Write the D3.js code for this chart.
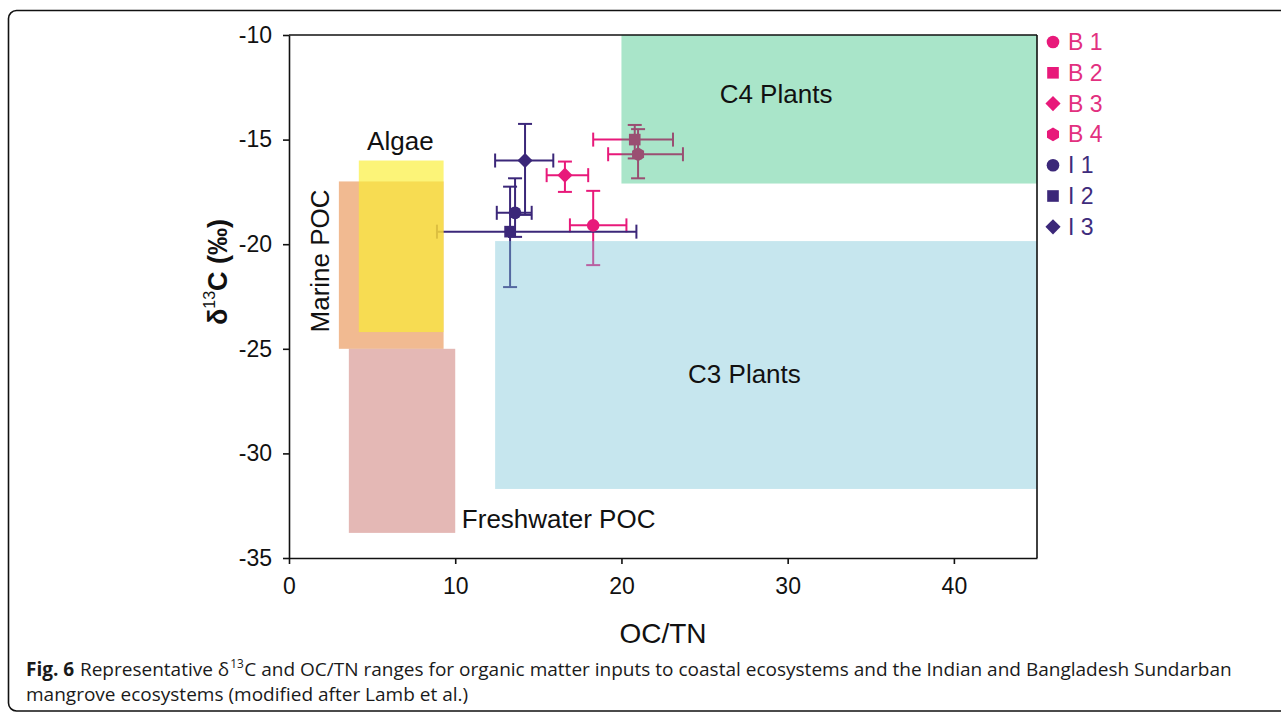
<!DOCTYPE html>
<html>
<head>
<meta charset="utf-8">
<script src="https://cdn.jsdelivr.net/npm/d3@7"></script>
<style>
  body { margin: 0; background: #fff; }
  svg { display: block; }
</style>
</head>
<body>
<svg id="chart" width="1281" height="714"></svg>
<script>
// ---- Sample stations: Bangladesh (B) and Indian (I) Sundarbans ----
const series       = ["B1", "B2", "B3", "B4", "I1", "I2", "I3"];
const legendLabels = ["B 1", "B 2", "B 3", "B 4", "I 1", "I 2", "I 3"];
const groups       = ["B", "B", "B", "B", "I", "I", "I"];
const shapes       = ["circle", "square", "diamond", "hexagon", "circle", "square", "diamond"];
const ocTn         = [18.3, 20.8, 16.6, 21.0, 13.6, 13.3, 14.2];
const ocTnLow      = [16.9, 18.3, 15.5, 19.2, 12.5, 8.9, 12.4];
const ocTnHigh     = [20.3, 23.1, 18.0, 23.7, 14.6, 20.9, 15.9];
const d13C         = [-19.1, -15.0, -16.7, -15.7, -18.5, -19.4, -16.0];
const d13CLow      = [-21.0, -15.9, -17.5, -16.85, -19.65, -22.05, -18.6];
const d13CHigh     = [-17.45, -14.3, -16.05, -14.5, -16.85, -17.25, -14.25];

// ---- Source end-member ranges (after Lamb et al.) ----
const regionNames = ["Marine POC", "Freshwater POC", "Algae", "C3 Plants", "C4 Plants"];
const regionX0    = [3.0, 3.6, 4.2, 12.4, 20.0];
const regionX1    = [9.3, 10.0, 9.3, 45, 45];
const regionY0    = [-25.0, -33.8, -24.2, -31.7, -17.1];
const regionY1    = [-17.0, -25.0, -16.0, -19.85, -10];
// label anchor points in data units
const regionLabelX = [1.85, 10.4, 6.7, 27.4, 29.3];
const regionLabelY = [-20.8, -33.15, -15.05, -26.2, -12.8];

// ---- Axes ----
const xTicks = [0, 10, 20, 30, 40];
const xTickLabels = ["0", "10", "20", "30", "40"];
const yTicks = [-35, -30, -25, -20, -15, -10];
const yTickLabels = ["-35", "-30", "-25", "-20", "-15", "-10"];

// ---- Caption pieces ----
const captionBold = "Fig. 6";
const captionLine1a = "Representative δ";
const captionSup = "13";
const captionLine1b = "C and OC/TN ranges for organic matter inputs to coastal ecosystems and the Indian and Bangladesh Sundarban";
const captionLine2 = "mangrove ecosystems (modified after Lamb et al.)";

// ---- Styling ----
const groupColor = { B: "#e8197a", I: "#3b2779" };
const legendTextColor = { B: "#e2307f", I: "#3e2c7c" };
const regionFill = {
  "Marine POC":     { c: "rgb(232,140,72)",  o: 0.6 },
  "Freshwater POC": { c: "rgb(206,126,120)", o: 0.55 },
  "Algae":          { c: "rgb(250,238,50)",  o: 0.66 },
  "C3 Plants":      { c: "rgb(120,195,215)", o: 0.42 },
  "C4 Plants":      { c: "rgb(10,180,100)",  o: 0.35 }
};
const FONT = "'Liberation Sans', Arial, sans-serif";

const svg = d3.select("#chart");
const x = d3.scaleLinear().domain([0, 45]).range([289, 1037]);
const y = d3.scaleLinear().domain([-35, -10]).range([558, 35]);

// outer rounded frame of the figure panel
svg.append("path")
  .attr("d", "M1300,10.5 H16.5 A8,8 0 0 0 8.5,18.5 V703 A8,8 0 0 0 16.5,711 H1300")
  .attr("fill", "none").attr("stroke", "#111").attr("stroke-width", 1.6);

// marker shapes
const symbolDiamond45 = {
  draw(ctx, size) {
    const r = Math.sqrt(size / 2);
    ctx.moveTo(0, -r); ctx.lineTo(r, 0); ctx.lineTo(0, r); ctx.lineTo(-r, 0); ctx.closePath();
  }
};
const symbolHexagon = {
  draw(ctx, size) {
    const r = Math.sqrt(2 * size / (3 * Math.sqrt(3)));
    for (let i = 0; i < 6; i++) {
      const a = Math.PI / 3 * i - Math.PI / 2;
      const px = r * Math.cos(a), py = r * Math.sin(a);
      if (i === 0) ctx.moveTo(px, py); else ctx.lineTo(px, py);
    }
    ctx.closePath();
  }
};
const symbolTypes = {
  circle:  { t: d3.symbolCircle, s: 125 },
  square:  { t: d3.symbolSquare, s: 135 },
  diamond: { t: symbolDiamond45, s: 115 },
  hexagon: { t: symbolHexagon,   s: 125 }
};
const symbolPath = k => d3.symbol().type(symbolTypes[k].t).size(symbolTypes[k].s)();

const pts = series.map((s, i) => ({
  s, g: groups[i], shape: shapes[i],
  x: ocTn[i], x0: ocTnLow[i], x1: ocTnHigh[i],
  y: d13C[i], y0: d13CLow[i], y1: d13CHigh[i]
}));

// ---- error bars and markers ----
const CAP = 7;
const pg = svg.append("g");
pts.forEach(p => {
  const g = pg.append("g").attr("stroke", groupColor[p.g]).attr("stroke-width", 2).attr("fill", "none");
  const cx = x(p.x), cy = y(p.y);
  // horizontal bar
  g.append("line").attr("x1", x(p.x0)).attr("x2", x(p.x1)).attr("y1", cy).attr("y2", cy);
  g.append("line").attr("x1", x(p.x0)).attr("x2", x(p.x0)).attr("y1", cy - CAP).attr("y2", cy + CAP);
  g.append("line").attr("x1", x(p.x1)).attr("x2", x(p.x1)).attr("y1", cy - CAP).attr("y2", cy + CAP);
  // vertical bar
  g.append("line").attr("x1", cx).attr("x2", cx).attr("y1", y(p.y0)).attr("y2", y(p.y1));
  g.append("line").attr("x1", cx - CAP).attr("x2", cx + CAP).attr("y1", y(p.y0)).attr("y2", y(p.y0));
  g.append("line").attr("x1", cx - CAP).attr("x2", cx + CAP).attr("y1", y(p.y1)).attr("y2", y(p.y1));
});
pg.selectAll("path.mk").data(pts).join("path")
  .attr("class", "mk")
  .attr("d", d => symbolPath(d.shape))
  .attr("transform", d => `translate(${x(d.x)},${y(d.y)})`)
  .attr("fill", d => groupColor[d.g]);

// ---- translucent source ranges laid over the samples ----
const regions = regionNames.map((n, i) => ({
  n, x0: regionX0[i], x1: regionX1[i], y0: regionY0[i], y1: regionY1[i],
  lx: regionLabelX[i], ly: regionLabelY[i]
}));
svg.append("g").selectAll("rect").data(regions).join("rect")
  .attr("x", d => x(d.x0))
  .attr("y", d => y(d.y1))
  .attr("width", d => x(d.x1) - x(d.x0))
  .attr("height", d => y(d.y0) - y(d.y1))
  .attr("fill", d => regionFill[d.n].c)
  .attr("fill-opacity", d => regionFill[d.n].o);

// region labels
const lab = svg.append("g").attr("font-family", FONT).attr("font-size", 26).attr("fill", "#111");
regions.forEach(r => {
  const t = lab.append("text").text(r.n).attr("dominant-baseline", "central");
  if (r.n === "Marine POC") {
    t.attr("text-anchor", "middle")
     .attr("transform", `translate(${x(r.lx)},${y(r.ly)}) rotate(-90)`);
  } else if (r.n === "Freshwater POC") {
    t.attr("text-anchor", "start").attr("x", x(r.lx)).attr("y", y(r.ly));
  } else {
    t.attr("text-anchor", "middle").attr("x", x(r.lx)).attr("y", y(r.ly));
  }
});

// ---- axes ----
const xAxis = d3.axisBottom(x).tickValues(xTicks)
  .tickFormat((d, i) => xTickLabels[i]).tickSize(6).tickSizeOuter(0).tickPadding(14);
const yAxis = d3.axisLeft(y).tickValues(yTicks)
  .tickFormat((d, i) => yTickLabels[i]).tickSize(6).tickSizeOuter(0).tickPadding(11);

const gx = svg.append("g").attr("transform", `translate(0,${y(-35)})`).call(xAxis);
const gy = svg.append("g").attr("transform", `translate(${x(0)},0)`).call(yAxis);
[gx, gy].forEach(g => {
  g.selectAll("path, line").attr("stroke", "#111").attr("stroke-width", 1.6);
  g.selectAll("text").attr("font-family", FONT).attr("font-size", 23).attr("fill", "#111");
});

// plot frame: top and right edges
svg.append("line").attr("x1", x(0)).attr("x2", x(45)).attr("y1", y(-10)).attr("y2", y(-10))
  .attr("stroke", "#111").attr("stroke-width", 1.6);
svg.append("line").attr("x1", x(45)).attr("x2", x(45)).attr("y1", y(-10)).attr("y2", y(-35))
  .attr("stroke", "#111").attr("stroke-width", 1.6);

// axis titles
svg.append("text")
  .attr("x", (x(0) + x(45)) / 2).attr("y", 633)
  .attr("text-anchor", "middle").attr("dominant-baseline", "central")
  .attr("font-family", FONT).attr("font-size", 28).attr("fill", "#111")
  .text("OC/TN");

const yt = svg.append("text")
  .attr("transform", `translate(218,272) rotate(-90)`)
  .attr("text-anchor", "middle").attr("dominant-baseline", "central")
  .attr("font-family", FONT).attr("font-size", 27).attr("font-weight", "bold").attr("fill", "#111");
yt.append("tspan").text("δ");
yt.append("tspan").text("13").attr("font-size", 16).attr("dy", -9).attr("font-weight", "normal");
yt.append("tspan").text("C (‰)").attr("dy", 9);

// ---- legend ----
const lg = svg.append("g");
pts.forEach((p, i) => {
  const ly = 42 + i * 30.8;
  lg.append("path").attr("d", symbolPath(p.shape))
    .attr("transform", `translate(1053,${ly})`).attr("fill", groupColor[p.g]);
  lg.append("text").attr("x", 1068).attr("y", ly)
    .attr("dominant-baseline", "central")
    .attr("font-family", FONT).attr("font-size", 23)
    .attr("fill", legendTextColor[p.g]).text(legendLabels[i]);
});

// ---- caption: font size chosen so the first line fills the panel width ----
const CAP_FONT = "'Open Sans', 'Noto Sans', sans-serif";
const CAP_LEFT = 26, CAP_WIDTH = 1207;
const pieces = [
  { s: captionBold, bold: true, rel: 1, gap: 0.3 },
  { s: captionLine1a, rel: 1, gap: 0.05 },
  { s: captionSup, rel: 0.62, dy: -0.4, gap: 0.03 },
  { s: captionLine1b, rel: 1, gap: 0 }
];
function capText(str, size, bold) {
  return svg.append("text")
    .attr("font-family", CAP_FONT).attr("font-size", size)
    .attr("font-weight", bold ? "bold" : "normal")
    .attr("fill", "#1a1a1a").text(str);
}
// measure at a trial size, then scale the size to fit
const trial = 20;
const trialW = d3.sum(pieces, p => {
  const t = capText(p.s, trial * p.rel, p.bold);
  const w = t.node().getComputedTextLength();
  t.remove();
  return w + p.gap * trial;
});
const capSize = trial * CAP_WIDTH / trialW;
let cursor = CAP_LEFT;
pieces.forEach(p => {
  const t = capText(p.s, capSize * p.rel, p.bold)
    .attr("x", cursor).attr("y", 676 + (p.dy || 0) * capSize);
  cursor += t.node().getComputedTextLength() + p.gap * capSize;
});
capText(captionLine2, capSize, false).attr("x", CAP_LEFT).attr("y", 701);
</script>
</body>
</html>
